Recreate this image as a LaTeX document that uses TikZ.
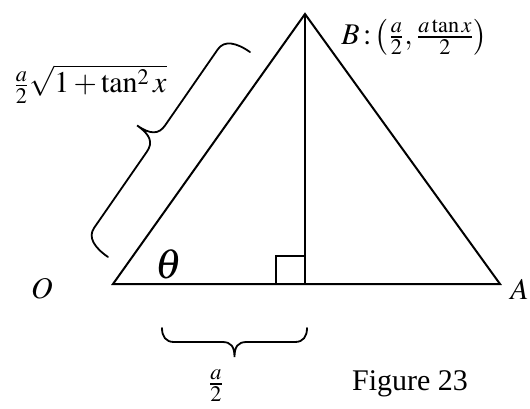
\documentclass[tikz,border=0pt]{standalone}
\usepackage{mathptmx}
\usepackage[no-math]{fontspec}
\setmainfont{Liberation Serif}
\usetikzlibrary{decorations.pathreplacing,positioning,calc}

% curly brace between two named points: #1 from, #2 to, #3 shoulder, #4 tip, #5 curl
\newcommand\curlybrace[5]{%
  \draw[brc] let \p1=(#1), \p2=(#2), \n1={atan2(\y2-\y1,\x2-\x1)},
    \n2={veclen(\x2-\x1,\y2-\y1)} in [shift={(\p1)}, rotate=\n1]
    (0pt,0pt) .. controls (0pt,{0.6*#3}) and ({0.3*#5},#3) .. (#5,#3)
    -- ({\n2*0.5pt-#5},#3) .. controls ({\n2*0.5pt-0.3*#5},#3) and ({\n2*0.5pt},{#3+0.3*(#4-#3)}) .. ({\n2*0.5pt},#4)
    .. controls ({\n2*0.5pt},{#3+0.3*(#4-#3)}) and ({\n2*0.5pt+0.3*#5},#3) .. ({\n2*0.5pt+#5},#3)
    -- ({\n2*1pt-#5},#3) .. controls ({\n2*1pt-0.3*#5},#3) and ({\n2*1pt},{0.6*#3}) .. ({\n2*1pt},0pt);
}

\begin{document}
\begin{tikzpicture}[x=0.5pt, y=-0.5pt,
      side/.style={line width=1pt, black},
      brc/.style={line width=0.9pt, line cap=round},
      lbl/.style={font=\fontsize{15}{18}\selectfont, inner sep=0pt}
    ]
      \useasboundingbox (0,0) rectangle (530,408);

      % triangle corners
      \coordinate (O) at (113,284);
      \coordinate (B) at (305,14);
      \coordinate (A) at (500,284);
      \coordinate (foot) at (305,284);

      \draw[side] (O) -- (B) -- (A) -- cycle;
      \draw[side] (B) -- (foot);
      \draw[line width=0.9pt] (276,284) rectangle (305,256);

      % braces
      \coordinate (hypLo) at (108,257);
      \coordinate (hypHi) at (250,52);
      \coordinate (baseR) at (307,328);
      \coordinate (baseL) at (162,328);
      \curlybrace{hypLo}{hypHi}{14pt}{25.5pt}{8pt}
      \curlybrace{baseR}{baseL}{7pt}{14.5pt}{6pt}

      % labels
      \node[lbl] (oLbl) at (42,289) {$O$};
      \node[lbl, anchor=east] (aLbl) at (529,289) {$A$};
      \node[lbl, anchor=west] (bLbl) at (341,37) {$B\!:\!\left(\frac{a}{2},\frac{a\tan x}{2}\right)$};
      \node[lbl, font=\fontsize{21}{24}\selectfont] (theta) at (169,264) {$\theta$};
      \node[lbl] (hypLbl) at (90,84) {$\frac{a}{2}\sqrt{1+\tan^2 x}$};
      \node[lbl] (baseLbl) at (216,386) {$\frac{a}{2}$};
      \node[lbl] (fig) at (410,384) {Figure 23};
    \end{tikzpicture}
\end{document}
